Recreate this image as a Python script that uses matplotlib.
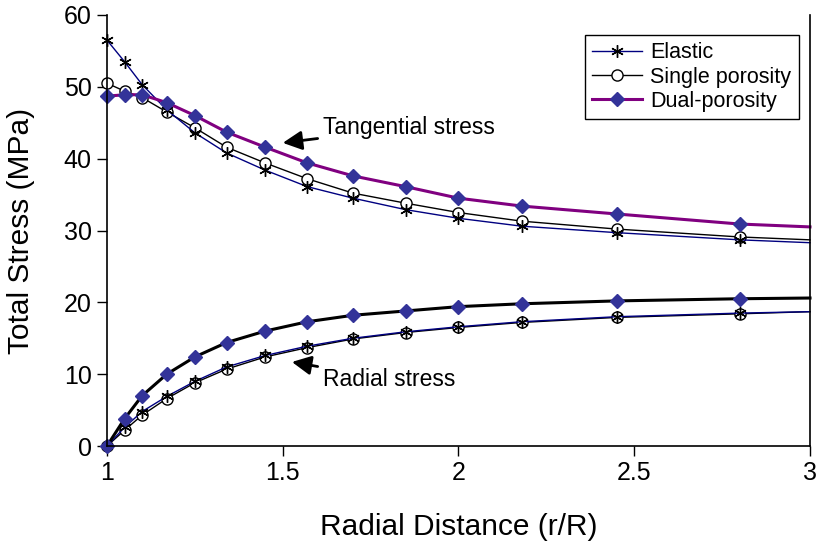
import numpy as np
import matplotlib
matplotlib.use("Agg")
import matplotlib.pyplot as plt

plt.rcParams['font.family'] = ['Liberation Sans', 'DejaVu Sans']

# radial distance r/R (last point only carries the line to the edge)
r = [1.0, 1.05, 1.1, 1.17, 1.25, 1.34, 1.45, 1.57, 1.70, 1.85, 2.0, 2.18, 2.45, 2.8, 3.0]

tang_elastic = [56.5, 53.5, 50.3, 46.8, 43.6, 40.8, 38.4, 36.1, 34.5, 32.9, 31.7, 30.6, 29.7, 28.7, 28.3]
tang_single = [50.5, 49.4, 48.5, 46.5, 44.3, 41.6, 39.4, 37.2, 35.2, 33.8, 32.5, 31.3, 30.2, 29.1, 28.7]
tang_dual = [48.7, 48.9, 48.9, 47.8, 46.0, 43.7, 41.6, 39.4, 37.6, 36.1, 34.5, 33.4, 32.3, 30.9, 30.5]

rad_elastic = [0.0, 2.6, 4.8, 6.9, 9.0, 11.0, 12.6, 13.9, 15.0, 15.9, 16.6, 17.3, 18.0, 18.5, 18.7]
rad_single = [0.0, 2.2, 4.3, 6.6, 8.8, 10.7, 12.4, 13.7, 14.9, 15.8, 16.5, 17.2, 17.9, 18.4, 18.7]
rad_dual = [0.0, 3.8, 7.0, 10.0, 12.4, 14.4, 16.0, 17.3, 18.2, 18.8, 19.4, 19.8, 20.2, 20.5, 20.6]

x_ticks = [1, 1.5, 2, 2.5, 3]
y_ticks = [0, 10, 20, 30, 40, 50, 60]

navy = '#000080'
purple = '#800080'
blue = '#333399'
marks = slice(0, -1)

fig = plt.figure(figsize=(8.2, 5.43), dpi=100)
ax = fig.add_axes([107 / 820, 1 - 446 / 543, 703 / 820, 431 / 543])

elastic_style = dict(color=navy, lw=1.0, marker=(6, 2, 0), ms=9, mec='black', mew=1.0, markevery=marks, clip_on=False)
single_style = dict(color='black', lw=1.0, marker='o', ms=8, mfc='white', mec='black', mew=1.0, markevery=marks, clip_on=False)

ax.plot(r, tang_single, label='Single porosity', **single_style)
ax.plot(r, tang_elastic, label='Elastic', **elastic_style)
ax.plot(r, tang_dual, color=purple, lw=2.2, marker='D', ms=7, mfc=blue, mec=blue,
        markevery=marks, clip_on=False, label='Dual-porosity')

ax.plot(r, rad_single, **single_style)
ax.plot(r, rad_elastic, **elastic_style)
ax.plot(r, rad_dual, color='black', lw=2.2, marker='D', ms=7, mfc=blue, mec=blue,
        markevery=marks, clip_on=False)

ax.set_xlim(1, 3)
ax.set_ylim(0, 60)
ax.set_xticks(x_ticks)
ax.set_xticklabels(['1', '1.5', '2', '2.5', '3'])
ax.set_yticks(y_ticks)
ax.tick_params(direction='out', length=7, width=1, labelsize=18, pad=4)
ax.spines['top'].set_visible(False)
for s in ['left', 'bottom', 'right']:
    ax.spines[s].set_linewidth(1.2)

ax.set_xlabel('Radial Distance (r/R)', fontsize=21.5, labelpad=20)
ax.set_ylabel('Total Stress (MPa)', fontsize=21.5, labelpad=21)

ax.annotate('Tangential stress', xy=(1.50, 42.2), xytext=(1.615, 44.4), fontsize=16.5, va='center',
            arrowprops=dict(arrowstyle='-|>,head_length=0.7,head_width=0.35', color='black', lw=2,
                            shrinkA=2, shrinkB=0))
ax.annotate('Radial stress', xy=(1.526, 11.7), xytext=(1.615, 9.3), fontsize=16.5, va='center',
            arrowprops=dict(arrowstyle='-|>,head_length=0.7,head_width=0.35', color='black', lw=2,
                            shrinkA=2, shrinkB=0))

handles, labels = ax.get_legend_handles_labels()
order = [1, 0, 2]
leg = ax.legend([handles[i] for i in order], [labels[i] for i in order],
                loc='upper right', bbox_to_anchor=(0.984, 0.954), borderaxespad=0,
                fontsize=15.5, numpoints=1, handlelength=2.3, handletextpad=0.4,
                labelspacing=0.15, borderpad=0.35, fancybox=False, framealpha=1)
leg.get_frame().set_edgecolor('black')
leg.get_frame().set_linewidth(1.0)

fig.savefig('out.png', dpi=100)
